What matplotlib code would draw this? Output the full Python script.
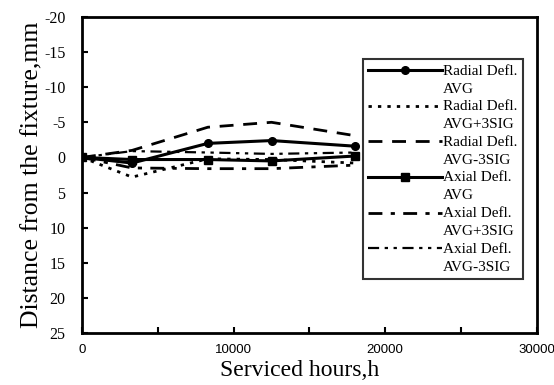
import matplotlib
matplotlib.use("Agg")
import matplotlib.pyplot as plt
import numpy as np
from matplotlib.legend_handler import HandlerLine2D

hours = [0, 3300, 8300, 12500, 18000]
radial_avg = [0, 0.8, -2.0, -2.4, -1.6]
radial_p3 = [0, 2.8, 0.2, 0.3, 0.8]
radial_m3 = [0, -1.0, -4.3, -5.0, -3.1]
axial_avg = [0, 0.3, 0.3, 0.5, -0.2]
axial_p3 = [0, 1.5, 1.6, 1.6, 1.1]
axial_m3 = [0, -0.9, -0.7, -0.5, -0.7]

labels = ["Radial Defl.\nAVG", "Radial Defl.\nAVG+3SIG", "Radial Defl.\nAVG-3SIG",
          "Axial Defl.\nAVG", "Axial Defl.\nAVG+3SIG", "Axial Defl.\nAVG-3SIG"]
xticks = [0, 5000, 10000, 15000, 20000, 25000, 30000]
xticklabels = ["0", "", "10000", "", "20000", "", "30000"]
yticks = [-20, -15, -10, -5, 0, 5, 10, 15, 20, 25]


class UpperHandler(HandlerLine2D):
    def create_artists(self, legend, orig_handle, xdescent, ydescent, width, height, fontsize, trans):
        arts = super().create_artists(legend, orig_handle, xdescent, ydescent, width, height, fontsize, trans)
        for a in arts:
            a.set_ydata(np.asarray(a.get_ydata(), dtype=float) + 0.62 * fontsize)
        return arts


serif = "Liberation Serif"
fig = plt.figure(figsize=(5.54, 3.85), dpi=100)
ax = fig.add_axes([0.148, 0.135, 0.821, 0.821])

lines = []
lines += ax.plot(hours, radial_avg, color="black", lw=2.2, marker="o", ms=5.5, label=labels[0])
lines += ax.plot(hours, radial_p3, color="black", lw=2.0, dashes=(1.2, 2.2), label=labels[1])
lines += ax.plot(hours, radial_m3, color="black", lw=2.0, dashes=(5, 3.5), label=labels[2])
lines += ax.plot(hours, axial_avg, color="black", lw=2.2, marker="s", ms=6, label=labels[3])
lines += ax.plot(hours, axial_p3, color="black", lw=2.0, dashes=(5, 3, 1.5, 3), label=labels[4])
lines += ax.plot(hours, axial_m3, color="black", lw=1.6, dashes=(5, 2.5, 1.5, 2.5, 1.5, 2.5), label=labels[5])

ax.set_xlim(0, 30000)
ax.set_ylim(25, -20)
ax.set_xticks(xticks)
ax.set_xticklabels(xticklabels, fontfamily="Liberation Sans", fontsize=9.5)
ax.set_yticks(yticks)
ax.set_yticklabels([str(v) for v in yticks], fontfamily=serif, fontsize=11.5)
ax.tick_params(axis="both", direction="in", length=4, width=1.5)
ax.tick_params(axis="x", pad=8)
ax.tick_params(axis="y", pad=12)
for s in ax.spines.values():
    s.set_linewidth(2)

ax.set_xlabel("Serviced hours,h", fontfamily=serif, fontsize=17, labelpad=1)
ax.xaxis.set_label_coords(0.478, -0.085)
ax.set_ylabel("Distance from the fixture,mm", fontfamily=serif, fontsize=18.5, labelpad=0)

leg = ax.legend(handles=lines, labels=labels, loc="upper left", bbox_to_anchor=(0.618, 0.866),
                prop={"family": serif, "size": 11},
                handlelength=4.8, handletextpad=0.1, labelspacing=0.3, borderpad=0.35,
                borderaxespad=0, fancybox=False, frameon=True,
                handler_map={l: UpperHandler() for l in lines})
leg.get_frame().set_edgecolor("black")
leg.get_frame().set_linewidth(1.5)
for t in leg.get_texts():
    t.set_linespacing(1.5)

fig.savefig("out.png", dpi=100)
